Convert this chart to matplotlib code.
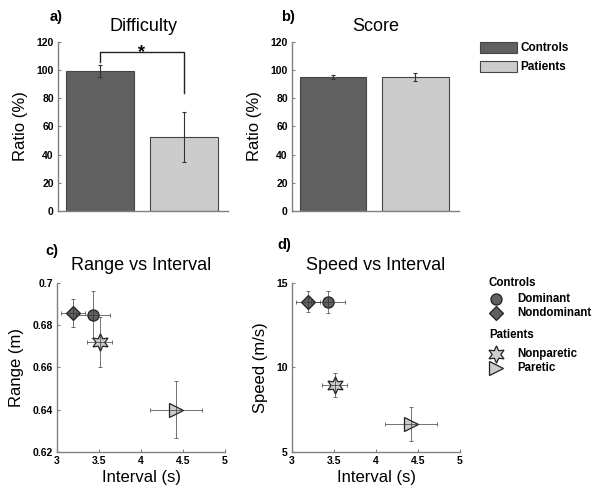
import matplotlib
matplotlib.use("Agg")
import matplotlib.pyplot as plt
from matplotlib.patches import Patch

plt.rcParams['font.family'] = ['Liberation Sans', 'DejaVu Sans']

# data
groups = ["Controls", "Patients"]
difficulty = [99.5, 52.5]
difficulty_err = [4.5, 17.5]
score = [95.0, 95.0]
score_err = [1.5, 3.0]

conditions = ["Dominant", "Nondominant", "Nonparetic", "Paretic"]
interval = [3.43, 3.19, 3.51, 4.42]
interval_err = [0.20, 0.14, 0.15, 0.31]
range_m = [0.685, 0.6857, 0.672, 0.640]
range_err = [0.011, 0.0066, 0.012, 0.0135]
speed = [13.9, 13.9, 8.95, 6.65]
speed_err = [0.65, 0.6, 0.7, 1.0]

dark = "#606060"
light = "#cccccc"
spine = "#808080"
markers = ["o", "D", (6, 1, 0), ">"]
msizes = [8, 7.5, 12.5, 9.5]
mcolors = [dark, dark, light, light]

fig = plt.figure(figsize=(6, 4.99), dpi=100)

def style(ax):
    for s in ["top", "right"]:
        ax.spines[s].set_visible(False)
    for s in ["left", "bottom"]:
        ax.spines[s].set_color(spine)
        ax.spines[s].set_linewidth(1.0)
    ax.tick_params(direction="in", length=2, width=0.8, color=spine,
                   labelsize=7.5, pad=3)
    for lab in ax.get_xticklabels() + ax.get_yticklabels():
        lab.set_fontweight("bold")

# bar panels
ax_a = fig.add_axes([0.0967, 0.5772, 0.2833, 0.3387])
ax_b = fig.add_axes([0.4867, 0.5772, 0.2783, 0.3387])
for ax, vals, errs, title in [(ax_a, difficulty, difficulty_err, "Difficulty"),
                              (ax_b, score, score_err, "Score")]:
    ax.bar([1, 2], vals, width=0.81, color=[dark, light],
           edgecolor="#444444", linewidth=0.8)
    ax.errorbar([1, 2], vals, yerr=errs, fmt="none", ecolor="#333333",
                elinewidth=0.8, capsize=1.2, capthick=0.8)
    ax.set_xlim(0.5, 2.53)
    ax.set_ylim(0, 120)
    ax.set_yticks(range(0, 121, 20))
    ax.set_xticks([])
    ax.set_ylabel("Ratio (%)", fontsize=12, labelpad=6)
    ax.set_title(title, fontsize=13, pad=8)
    style(ax)

# significance bracket
ax_a.plot([1, 1, 2, 2], [106, 113, 113, 84], color="#222222", lw=1.0,
          clip_on=False)
ax_a.text(1.5, 109, "*", ha="center", va="baseline", fontsize=13,
          fontweight="bold")

fig.legend(handles=[Patch(facecolor=dark, edgecolor="#444444", lw=0.8),
                    Patch(facecolor=light, edgecolor="#444444", lw=0.8)],
           labels=groups, loc="upper left", bbox_to_anchor=(0.792, 0.925),
           frameon=False, prop={"weight": "bold", "size": 8.5},
           handlelength=3.1, handleheight=1.0, labelspacing=0.55,
           handletextpad=0.3, borderaxespad=0)

# scatter panels
ax_c = fig.add_axes([0.095, 0.0942, 0.28, 0.3387])
ax_d = fig.add_axes([0.4867, 0.0942, 0.28, 0.3387])
for ax, yv, ye, title, ylab, ylim, yt in [
        (ax_c, range_m, range_err, "Range vs Interval", "Range (m)",
         (0.62, 0.70), [0.62, 0.64, 0.66, 0.68, 0.7]),
        (ax_d, speed, speed_err, "Speed vs Interval", "Speed (m/s)",
         (5, 15), [5, 10, 15])]:
    for i in range(len(conditions)):
        ax.plot(interval[i], yv[i], marker=markers[i], ms=msizes[i],
                color=mcolors[i], mec="#222222", mew=0.9, ls="none",
                zorder=2)
        ax.errorbar(interval[i], yv[i], xerr=interval_err[i], yerr=ye[i],
                    fmt="none", ecolor="#333333", elinewidth=0.6,
                    capsize=1.2, capthick=0.6, alpha=0.8, zorder=3)
    ax.set_xlim(3, 5)
    ax.set_ylim(*ylim)
    ax.set_xticks([3, 3.5, 4, 4.5, 5])
    ax.set_xticklabels(["3", "3.5", "4", "4.5", "5"])
    ax.set_yticks(yt)
    ax.set_yticklabels([f"{v:g}" for v in yt])
    ax.set_xlabel("Interval (s)", fontsize=12, labelpad=3)
    ax.set_ylabel(ylab, fontsize=12, labelpad=6)
    ax.set_title(title, fontsize=13, pad=9)
    style(ax)

# panel letters
for x, y, s in [(0.083, 0.965, "a)"), (0.468, 0.965, "b)"),
                (0.075, 0.497, "c)"), (0.463, 0.51, "d)")]:
    fig.text(x, y, s, fontsize=10.5, fontweight="bold", ha="left",
             va="center")

# grouped legend for panel d
lx_m, lx_t = 0.826, 0.862
fig.text(0.815, 1 - 283 / 499, "Controls", fontsize=8.3, fontweight="bold",
         va="center")
fig.text(0.815, 1 - 335 / 499, "Patients", fontsize=8.3, fontweight="bold",
         va="center")
rows = [299, 313, 354, 368]
for i, r in enumerate(rows):
    yf = 1 - r / 499
    ax_d.plot([lx_m], [yf], marker=markers[i], ms=msizes[i],
              color=mcolors[i], mec="#222222", mew=0.9, ls="none",
              transform=fig.transFigure, clip_on=False)
    fig.text(lx_t, yf, conditions[i], fontsize=8.3, fontweight="bold",
             va="center")

fig.savefig("out.png", dpi=100)
